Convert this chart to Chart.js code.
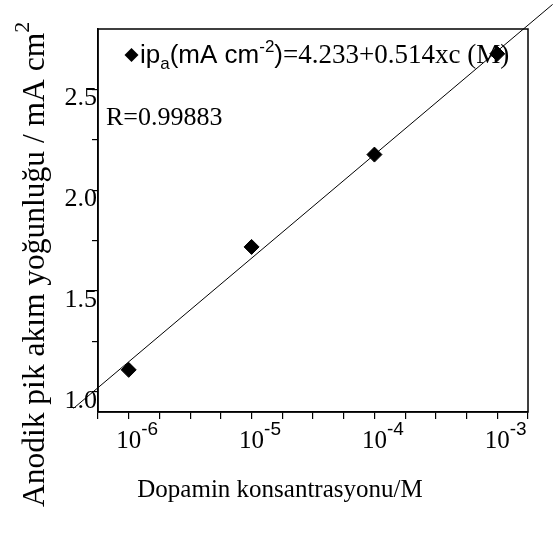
<!DOCTYPE html>
<html>
<head>
<meta charset="utf-8">
<script src="https://cdn.jsdelivr.net/npm/chart.js@4.4.0/dist/chart.umd.min.js"></script>
<style>
  body { margin: 0; background: #fff; }
</style>
</head>
<body>
<canvas id="chart" width="553" height="534"></canvas>
<script>
// measured points
const concentrations = [1e-6, 1e-5, 1e-4, 1e-3];
const peakCurrents = [1.109, 1.719, 2.177, 2.677];

// regression line ends (ip = 4.233 + 0.514 log c), runs past the frame
const fitX = [3.55e-7, 2.82e-3];
const fitY = [0.918, 2.922];

const xTickExponents = [-6, -5, -4, -3];
const yTickLabels = ['1.0', '1.5', '2.0', '2.5'];

const serif = "'Liberation Serif', 'Times New Roman', serif";
const sans = "'Liberation Sans', Arial, sans-serif";

function drawPieces(ctx, x, y, pieces) {
  // pieces: [text, font, dy]
  pieces.forEach(p => {
    ctx.font = p[1];
    ctx.fillText(p[0], x, y + (p[2] || 0));
    x += ctx.measureText(p[0]).width;
  });
  return x;
}

const annotations = {
  id: 'annotations',
  afterDraw(chart) {
    const ctx = chart.ctx;
    const area = chart.chartArea;
    const xs = chart.scales.x;
    ctx.save();
    ctx.fillStyle = '#000';
    ctx.strokeStyle = '#000';

    // frame
    ctx.lineWidth = 1.5;
    ctx.strokeRect(area.left, area.top, area.right - area.left, area.bottom - area.top);

    // x tick labels 10^n
    ctx.textBaseline = 'alphabetic';
    ctx.textAlign = 'left';
    xTickExponents.forEach(e => {
      const px = xs.getPixelForValue(Math.pow(10, e));
      ctx.font = '25px ' + serif;
      const w = ctx.measureText('10').width;
      ctx.fillText('10', px - w / 2, 448);
      ctx.font = '19px ' + sans;
      ctx.fillText('-' + Math.abs(e), px + w / 2, 435);
    });

    // x title
    ctx.font = '25px ' + serif;
    ctx.textAlign = 'center';
    ctx.fillText('Dopamin konsantrasyonu/M', 280, 497);

    // y title, read bottom to top
    ctx.save();
    ctx.translate(44, 507);
    ctx.rotate(-Math.PI / 2);
    ctx.textAlign = 'left';
    drawPieces(ctx, 0, 0, [
      ['Anodik pik akım yoğunluğu / mA cm', '31.5px ' + serif, 0],
      ['2', '22px ' + serif, -15]
    ]);
    ctx.restore();

    // legend
    ctx.beginPath();
    ctx.moveTo(131.5, 48);
    ctx.lineTo(138.5, 55);
    ctx.lineTo(131.5, 62);
    ctx.lineTo(124.5, 55);
    ctx.closePath();
    ctx.fill();
    ctx.textAlign = 'left';
    drawPieces(ctx, 140, 63, [
      ['ip', '26px ' + sans, 0],
      ['a', '17px ' + sans, 6],
      ['(mA cm', '26px ' + sans, 0],
      ['-2', '17px ' + sans, -11],
      [')', '26px ' + sans, 0],
      ['=4.233+0.514xc (M)', '27px ' + serif, 0]
    ]);

    ctx.font = '26px ' + serif;
    ctx.fillText('R=0.99883', 106, 125);
    ctx.restore();
  }
};

new Chart(document.getElementById('chart'), {
  type: 'scatter',
  data: {
    datasets: [{
      data: fitX.map((x, i) => ({ x: x, y: fitY[i] })),
      showLine: true,
      borderColor: '#000',
      borderWidth: 1,
      pointRadius: 0,
      clip: false
    }, {
      data: concentrations.map((x, i) => ({ x: x, y: peakCurrents[i] })),
      pointStyle: 'rectRot',
      pointRadius: 7.5,
      backgroundColor: '#000',
      borderColor: '#000',
      borderWidth: 1
    }]
  },
  options: {
    responsive: false,
    animation: false,
    layout: { padding: { left: 0, right: 25, top: 29, bottom: 0 } },
    plugins: { legend: { display: false }, tooltip: { enabled: false } },
    scales: {
      x: {
        type: 'logarithmic',
        min: Math.pow(10, -6.25),
        max: Math.pow(10, -2.75),
        afterBuildTicks(scale) {
          const t = [];
          for (let k = 0; k <= 14; k++) t.push({ value: Math.pow(10, -6.25 + k * 0.25) });
          scale.ticks = t;
        },
        afterFit(scale) { scale.height = 122; },
        ticks: { display: false },
        grid: { drawOnChartArea: false, drawTicks: true, tickLength: 7, color: '#000', lineWidth: 1.2 },
        border: { color: '#000', width: 1.5 }
      },
      y: {
        min: 0.9,
        max: 2.8,
        afterBuildTicks(scale) {
          const t = [];
          for (let k = 0; k <= 6; k++) t.push({ value: 1 + k * 0.25 });
          scale.ticks = t;
        },
        afterFit(scale) { scale.width = 98; },
        ticks: {
          color: '#000',
          font: { family: serif, size: 26 },
          padding: -5,
          labelOffset: 9,
          callback(v) {
            const lbl = v.toFixed(1);
            return yTickLabels.includes(lbl) && Math.abs(v * 2 - Math.round(v * 2)) < 1e-6 ? lbl : '';
          }
        },
        grid: { drawOnChartArea: false, drawTicks: true, tickLength: 6, color: '#000', lineWidth: 1.2 },
        border: { color: '#000', width: 1.5 }
      }
    }
  },
  plugins: [annotations]
});
</script>
</body>
</html>
